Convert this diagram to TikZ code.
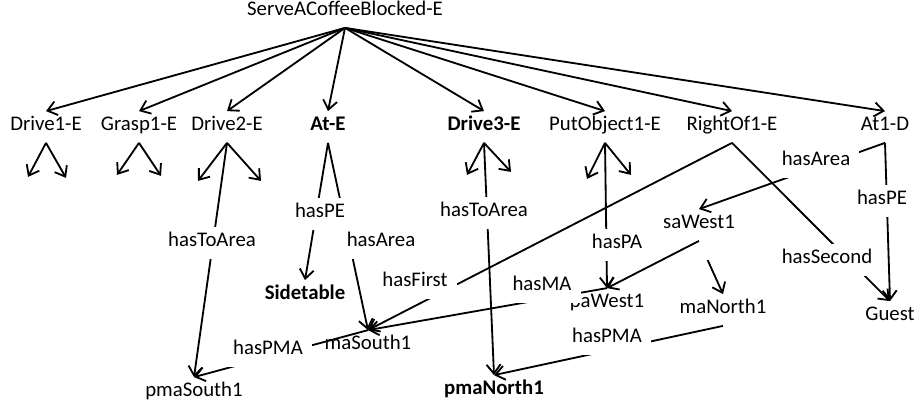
\documentclass[tikz,border=0pt]{standalone}
\usepackage{fontspec}
\setmainfont{Carlito}
\usetikzlibrary{arrows.meta}

\tikzset{
  ent/.style={inner sep=6.6pt, text height=0.7em, text depth=0.2em},
  lbl/.style={ent, fill=white},
  link/.style={line width=1.3pt, -{Straight Barb[length=6.5pt,width=10pt]}}
}

\begin{document}
\begin{tikzpicture}[x=0.025cm, y=-0.025cm, font=\fontsize{14.8}{17}\selectfont]
\useasboundingbox (0,0) rectangle (918,408);

% Top event
\node[ent] (serve) at (345,12) {ServeACoffeeBlocked-E};

% Sub-events
\node[ent] (drive1) at (46,127) {Drive1-E};
\node[ent] (grasp1) at (139,127) {Grasp1-E};
\node[ent] (drive2) at (227,127) {Drive2-E};
\node[ent] (ate) at (328,127) {\bfseries At-E};
\node[ent] (drive3) at (484,127) {\bfseries Drive3-E};
\node[ent] (putobj) at (605,127) {PutObject1-E};
\node[ent] (rightof) at (732,127) {RightOf1-E};
\node[ent] (atd) at (885,127) {At1-D};

% Objects and areas
\node[ent] (pmasouth) at (194,393) {pmaSouth1};
\node[ent] (sidetable) at (305,296) {\bfseries Sidetable};
\node[ent] (masouth) at (368,346) {maSouth1};
\node[ent] (pmanorth) at (494,391) {\bfseries pmaNorth1};
\node[ent] (pawest) at (607,304) {paWest1};
\node[ent] (sawest) at (699,225) {saWest1};
\node[ent] (manorth) at (723,310) {maNorth1};
\node[ent] (guest) at (890,317) {Guest};

% Edges from the top event
\foreach \n in {drive1, grasp1, drive2, ate, drive3, putobj, rightof, atd}
  \draw[link] (serve.south) -- (\n.north);

% Open stubs under the sub-events
\draw[link] (drive1.south) -- ++(-18,34);
\draw[link] (drive1.south) -- ++(20,35);
\draw[link] (grasp1.south) -- ++(-22,32);
\draw[link] (grasp1.south) -- ++(22,33);
\draw[link] (drive2.south) -- ++(-29,38);
\draw[link] (drive2.south) -- ++(34,38);
\draw[link] (drive3.south) -- ++(-17,32);
\draw[link] (drive3.south) -- ++(27,29);
\draw[link] (putobj.south) -- ++(-18,36);
\draw[link] (putobj.south) -- ++(26,32);

% Relations (labels go on top below)
\draw[link] (drive2.south) -- (pmasouth.north);
\draw[link] (ate.south) -- (sidetable.north);
\draw[link] (ate.south) -- (masouth.north);
\draw[link] (rightof.south) -- (masouth.north);
\draw[link] (masouth.north) -- (pmasouth.north);
\draw[link] (drive3.south) -- (pmanorth.north);
\draw[link] (putobj.south) -- (pawest.north);
\draw[link] (pawest.north) -- (masouth.north);
\draw[link] (manorth.south) -- (pmanorth.north);
\draw[link] (sawest.south) -- (pawest.north);
\draw[link, shorten <=15pt] (sawest.south) -- (manorth.north);
\draw[link] (atd.south) -- (sawest.north);
\draw[link] (atd.south) -- (guest.north);
\draw[link] (rightof.south) -- (guest.north);

% Relation labels
\node[lbl] (toarea2) at (212,243) {hasToArea};
\node[lbl] (pe1) at (320,214) {hasPE};
\node[lbl] (area1) at (381,243) {hasArea};
\node[lbl] (first) at (415,283) {hasFirst};
\node[lbl] (pma1) at (268,351) {hasPMA};
\node[lbl] (toarea3) at (484,213) {hasToArea};
\node[lbl] (pa) at (617,245) {hasPA};
\node[lbl] (ma) at (542,287) {hasMA};
\node[lbl] (pma2) at (607,339) {hasPMA};
\node[lbl] (area2) at (816,162) {hasArea};
\node[lbl] (second) at (827,260) {hasSecond};
\node[lbl] (pe2) at (882,201) {hasPE};

\end{tikzpicture}
\end{document}
